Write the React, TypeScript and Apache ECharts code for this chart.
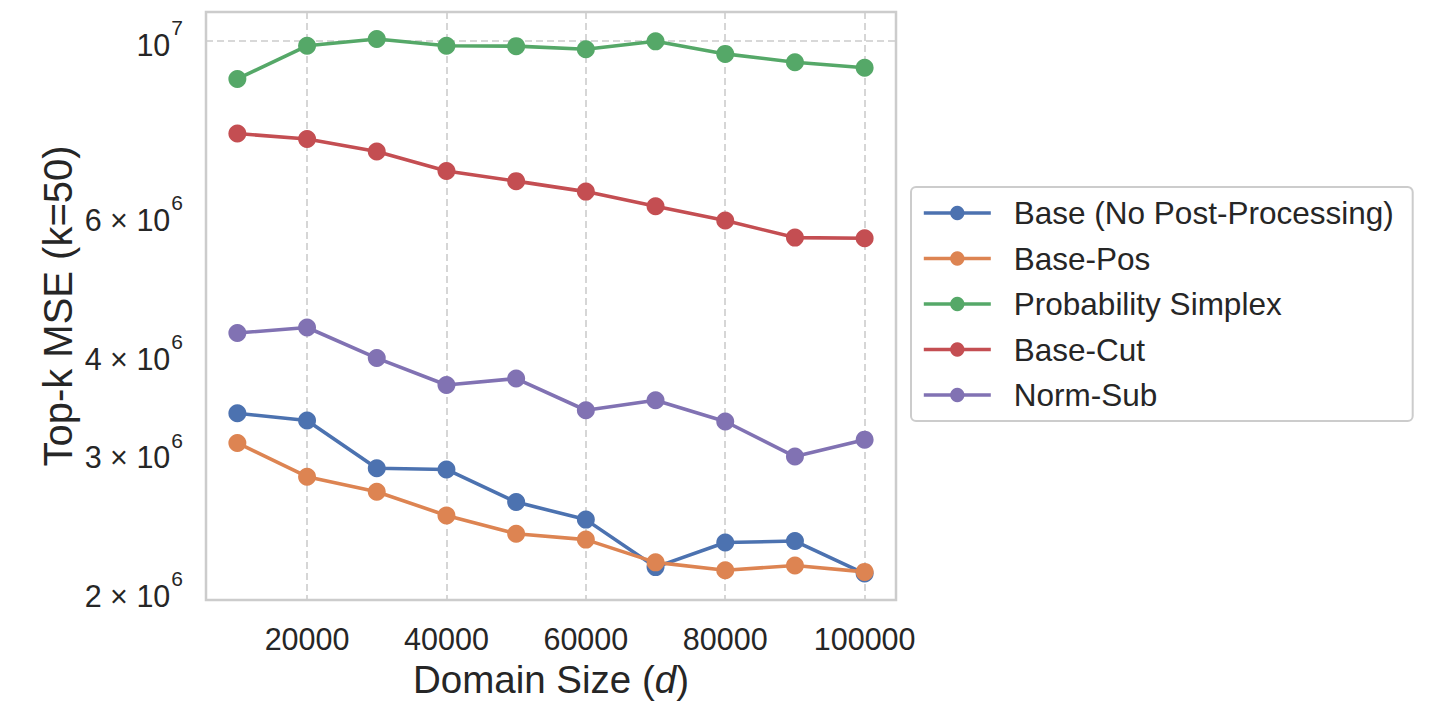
import React, { useEffect, useRef } from "react";
import * as echarts from "echarts";

const domainSizes = [10000, 20000, 30000, 40000, 50000, 60000, 70000, 80000, 90000, 100000];

const seriesNames = [
  "Base (No Post-Processing)",
  "Base-Pos",
  "Probability Simplex",
  "Base-Cut",
  "Norm-Sub",
];

const baseValues = [3.37e6, 3.3e6, 2.87e6, 2.86e6, 2.6e6, 2.47e6, 2.15e6, 2.31e6, 2.32e6, 2.11e6];
const basePosValues = [3.09e6, 2.8e6, 2.68e6, 2.5e6, 2.37e6, 2.33e6, 2.18e6, 2.13e6, 2.16e6, 2.12e6];
const simplexValues = [8.95e6, 9.86e6, 1.006e7, 9.86e6, 9.85e6, 9.76e6, 9.99e6, 9.63e6, 9.4e6, 9.25e6];
const baseCutValues = [7.63e6, 7.51e6, 7.24e6, 6.84e6, 6.64e6, 6.44e6, 6.17e6, 5.92e6, 5.63e6, 5.62e6];
const normSubValues = [4.26e6, 4.33e6, 3.96e6, 3.66e6, 3.73e6, 3.4e6, 3.5e6, 3.29e6, 2.97e6, 3.12e6];

const seriesColors = ["#4C72B0", "#DD8452", "#55A868", "#C44E52", "#8172B3"];

const xTicks = [20000, 40000, 60000, 80000, 100000];
const yTickLabels = [2e6, 3e6, 4e6, 6e6, 1e7];
const yMajorTicks = [1e7];

const FONT = "'Liberation Sans', Arial, sans-serif";
const TEXT = "#262626";
const EDGE = "#cccccc";

export default function App() {
  const ref = useRef<HTMLDivElement>(null);

  useEffect(() => {
    if (!ref.current) return;
    const chart = echarts.init(ref.current, undefined, { renderer: "svg" });
    const allValues = [baseValues, basePosValues, simplexValues, baseCutValues, normSubValues];

    const option: any = {
      animation: false,
      backgroundColor: "#ffffff",
      textStyle: { fontFamily: FONT },
      grid: {
        left: 206,
        top: 12,
        width: 690,
        height: 588,
        show: true,
        borderColor: EDGE,
        borderWidth: 2.5,
        backgroundColor: "transparent",
        containLabel: false,
        outerBoundsMode: "none",
      },
      legend: {
        orient: "vertical",
        left: 911,
        top: 187,
        padding: [9, 19, 9, 11],
        itemWidth: 67,
        itemHeight: 18,
        itemGap: 11.5,
        borderColor: EDGE,
        borderWidth: 2,
        borderRadius: 5,
        backgroundColor: "#ffffff",
        lineStyle: { width: 3.6 },
        textStyle: {
          fontFamily: FONT,
          fontSize: 31.5,
          color: TEXT,
          lineHeight: 34,
          padding: [0, 0, 0, 18],
        },
        data: seriesNames,
      },
      xAxis: {
        type: "value",
        min: 5500,
        max: 104500,
        name: "Domain Size ({i|d})",
        nameLocation: "middle",
        nameGap: 61,
        nameTextStyle: {
          fontFamily: FONT,
          fontSize: 38.5,
          lineHeight: 36,
          color: TEXT,
          rich: {
            i: { fontFamily: FONT, fontSize: 38.5, lineHeight: 36, fontStyle: "italic", color: TEXT },
          },
        },
        axisLine: { show: false },
        axisTick: { show: false, customValues: xTicks },
        axisLabel: {
          customValues: xTicks,
          margin: 23,
          fontFamily: FONT,
          fontSize: 30.5,
          color: TEXT,
          formatter: (v: number) => String(v),
        },
        splitLine: {
          show: true,
          lineStyle: { color: EDGE, width: 1.6, type: [7, 4] },
        },
      },
      yAxis: {
        type: "log",
        logBase: 10,
        min: 1.953e6,
        max: 1.0884e7,
        name: "Top-k MSE (k=50)",
        nameLocation: "middle",
        nameGap: 128,
        nameTextStyle: { fontFamily: FONT, fontSize: 40, color: TEXT },
        axisLine: { show: false },
        axisTick: { show: false, customValues: yMajorTicks },
        axisLabel: {
          customValues: yTickLabels,
          margin: 23,
          fontFamily: FONT,
          fontSize: 30.5,
          color: TEXT,
          formatter: (v: number) => {
            const exp = Math.floor(Math.log10(v) + 1e-9);
            const mant = Math.round(v / Math.pow(10, exp));
            if (mant === 1) return `{b|10}{s|${exp}}`;
            return `{b|${mant} × 10}{s|${exp}}`;
          },
          rich: {
            b: { fontFamily: FONT, fontSize: 30.5, color: TEXT, padding: [8, 0, 0, 0] },
            s: { fontFamily: FONT, fontSize: 21, color: TEXT, padding: [0, 0, 26, 1] },
          },
        },
        splitLine: {
          show: true,
          lineStyle: { color: EDGE, width: 1.6, type: [7, 4] },
        },
      },
      series: seriesNames.map((name, i) => ({
        name,
        type: "line",
        data: domainSizes.map((d, j) => [d, allValues[i][j]]),
        symbol: "circle",
        symbolSize: 18,
        lineStyle: { width: 3.6, color: seriesColors[i] },
        itemStyle: { color: seriesColors[i] },
        emphasis: { disabled: true },
      })),
    };

    chart.setOption(option);
    return () => chart.dispose();
  }, []);

  return (
    <div
      ref={ref}
      style={{ position: "fixed", left: 0, top: 0, width: 1429, height: 701 }}
    />
  );
}
